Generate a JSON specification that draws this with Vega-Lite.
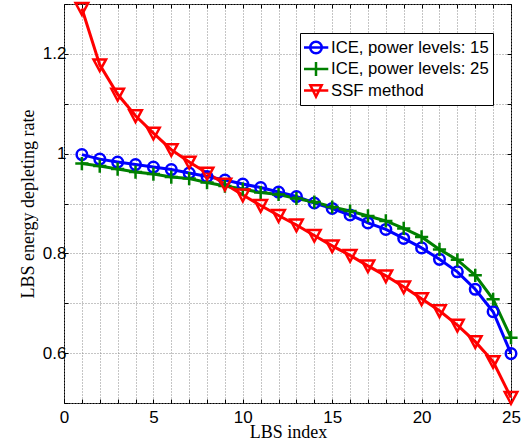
{
  "$schema": "https://vega.github.io/schema/vega-lite/v6.json",
  "width": 447,
  "height": 399,
  "autosize": "none",
  "padding": {"left": 64, "top": 4, "right": 20, "bottom": 42},
  "background": "white",
  "config": {
    "view": {"stroke": "black", "strokeWidth": 1},
    "axis": {
      "labelFont": "Liberation Sans",
      "labelFontSize": 17,
      "labelColor": "black",
      "titleFont": "Liberation Serif",
      "titleFontSize": 18,
      "titleFontWeight": "normal",
      "titleColor": "black",
      "domain": false,
      "tickColor": "black",
      "tickWidth": 1,
      "labelFlush": false,
      "labelOverlap": false
    }
  },
  "datasets": {
    "pts": [
      {"series": "ICE, power levels: 15", "lbs": 1, "rate": 0.998},
      {"series": "ICE, power levels: 15", "lbs": 2, "rate": 0.989},
      {"series": "ICE, power levels: 15", "lbs": 3, "rate": 0.983},
      {"series": "ICE, power levels: 15", "lbs": 4, "rate": 0.978},
      {"series": "ICE, power levels: 15", "lbs": 5, "rate": 0.973},
      {"series": "ICE, power levels: 15", "lbs": 6, "rate": 0.968},
      {"series": "ICE, power levels: 15", "lbs": 7, "rate": 0.961},
      {"series": "ICE, power levels: 15", "lbs": 8, "rate": 0.954},
      {"series": "ICE, power levels: 15", "lbs": 9, "rate": 0.947},
      {"series": "ICE, power levels: 15", "lbs": 10, "rate": 0.939},
      {"series": "ICE, power levels: 15", "lbs": 11, "rate": 0.932},
      {"series": "ICE, power levels: 15", "lbs": 12, "rate": 0.923},
      {"series": "ICE, power levels: 15", "lbs": 13, "rate": 0.914},
      {"series": "ICE, power levels: 15", "lbs": 14, "rate": 0.901},
      {"series": "ICE, power levels: 15", "lbs": 15, "rate": 0.89},
      {"series": "ICE, power levels: 15", "lbs": 16, "rate": 0.877},
      {"series": "ICE, power levels: 15", "lbs": 17, "rate": 0.861},
      {"series": "ICE, power levels: 15", "lbs": 18, "rate": 0.848},
      {"series": "ICE, power levels: 15", "lbs": 19, "rate": 0.83},
      {"series": "ICE, power levels: 15", "lbs": 20, "rate": 0.811},
      {"series": "ICE, power levels: 15", "lbs": 21, "rate": 0.788},
      {"series": "ICE, power levels: 15", "lbs": 22, "rate": 0.763},
      {"series": "ICE, power levels: 15", "lbs": 23, "rate": 0.728},
      {"series": "ICE, power levels: 15", "lbs": 24, "rate": 0.683},
      {"series": "ICE, power levels: 15", "lbs": 25, "rate": 0.599},
      {"series": "ICE, power levels: 25", "lbs": 1, "rate": 0.98},
      {"series": "ICE, power levels: 25", "lbs": 2, "rate": 0.975},
      {"series": "ICE, power levels: 25", "lbs": 3, "rate": 0.969},
      {"series": "ICE, power levels: 25", "lbs": 4, "rate": 0.963},
      {"series": "ICE, power levels: 25", "lbs": 5, "rate": 0.959},
      {"series": "ICE, power levels: 25", "lbs": 6, "rate": 0.953},
      {"series": "ICE, power levels: 25", "lbs": 7, "rate": 0.95},
      {"series": "ICE, power levels: 25", "lbs": 8, "rate": 0.942},
      {"series": "ICE, power levels: 25", "lbs": 9, "rate": 0.935},
      {"series": "ICE, power levels: 25", "lbs": 10, "rate": 0.929},
      {"series": "ICE, power levels: 25", "lbs": 11, "rate": 0.922},
      {"series": "ICE, power levels: 25", "lbs": 12, "rate": 0.918},
      {"series": "ICE, power levels: 25", "lbs": 13, "rate": 0.91},
      {"series": "ICE, power levels: 25", "lbs": 14, "rate": 0.903},
      {"series": "ICE, power levels: 25", "lbs": 15, "rate": 0.893},
      {"series": "ICE, power levels: 25", "lbs": 16, "rate": 0.885},
      {"series": "ICE, power levels: 25", "lbs": 17, "rate": 0.875},
      {"series": "ICE, power levels: 25", "lbs": 18, "rate": 0.865},
      {"series": "ICE, power levels: 25", "lbs": 19, "rate": 0.85},
      {"series": "ICE, power levels: 25", "lbs": 20, "rate": 0.833},
      {"series": "ICE, power levels: 25", "lbs": 21, "rate": 0.808},
      {"series": "ICE, power levels: 25", "lbs": 22, "rate": 0.787},
      {"series": "ICE, power levels: 25", "lbs": 23, "rate": 0.756},
      {"series": "ICE, power levels: 25", "lbs": 24, "rate": 0.708},
      {"series": "ICE, power levels: 25", "lbs": 25, "rate": 0.631},
      {"series": "SSF method", "lbs": 1, "rate": 1.291},
      {"series": "SSF method", "lbs": 2, "rate": 1.178},
      {"series": "SSF method", "lbs": 3, "rate": 1.119},
      {"series": "SSF method", "lbs": 4, "rate": 1.076},
      {"series": "SSF method", "lbs": 5, "rate": 1.041},
      {"series": "SSF method", "lbs": 6, "rate": 1.008},
      {"series": "SSF method", "lbs": 7, "rate": 0.983},
      {"series": "SSF method", "lbs": 8, "rate": 0.961},
      {"series": "SSF method", "lbs": 9, "rate": 0.939},
      {"series": "SSF method", "lbs": 10, "rate": 0.917},
      {"series": "SSF method", "lbs": 11, "rate": 0.896},
      {"series": "SSF method", "lbs": 12, "rate": 0.876},
      {"series": "SSF method", "lbs": 13, "rate": 0.857},
      {"series": "SSF method", "lbs": 14, "rate": 0.836},
      {"series": "SSF method", "lbs": 15, "rate": 0.815},
      {"series": "SSF method", "lbs": 16, "rate": 0.796},
      {"series": "SSF method", "lbs": 17, "rate": 0.775},
      {"series": "SSF method", "lbs": 18, "rate": 0.755},
      {"series": "SSF method", "lbs": 19, "rate": 0.733},
      {"series": "SSF method", "lbs": 20, "rate": 0.709},
      {"series": "SSF method", "lbs": 21, "rate": 0.685},
      {"series": "SSF method", "lbs": 22, "rate": 0.656},
      {"series": "SSF method", "lbs": 23, "rate": 0.623},
      {"series": "SSF method", "lbs": 24, "rate": 0.583},
      {"series": "SSF method", "lbs": 25, "rate": 0.511}
    ]
  },
  "data": {"name": "pts"},
  "resolve": {"axis": {"x": "independent", "y": "independent"}},
  "layer": [
    {
      "mark": {"type": "point", "filled": false, "opacity": 0, "strokeWidth": 2},
      "encoding": {
        "x": {
          "field": "lbs", "type": "quantitative",
          "scale": {"domain": [0, 25], "nice": false, "zero": false},
          "axis": {
            "orient": "bottom",
            "title": "LBS index",
            "values": [0,1,2,3,4,5,6,7,8,9,10,11,12,13,14,15,16,17,18,19,20,21,22,23,24,25],
            "format": "d",
            "labelExpr": "datum.value % 5 == 0 ? datum.label : ''",
            "tickSize": -4,
            "labelPadding": 10,
            "grid": true,
            "gridColor": "#8a8a8a",
            "gridDash": [1, 2],
            "gridWidth": 1,
            "titleX": 224,
            "titleY": 34,
            "titleBaseline": "alphabetic",
            "titleAlign": "center"
          }
        },
        "y": {
          "field": "rate", "type": "quantitative",
          "scale": {"domain": [0.5, 1.3], "nice": false, "zero": false},
          "axis": {
            "orient": "left",
            "title": "LBS energy depleting rate",
            "values": [0.5,0.6,0.7,0.8,0.9,1.0,1.1,1.2,1.3],
            "format": ".1~f",
            "labelExpr": "indexof(['0.6','0.8','1','1.2'], datum.label) >= 0 ? datum.label : ''",
            "tickSize": -4,
            "labelPadding": 2,
            "grid": true,
            "gridColor": "#8a8a8a",
            "gridDash": [1, 2],
            "gridWidth": 1,
            "titleX": -31,
            "titleY": 199.5,
            "titleAngle": 270,
            "titleBaseline": "alphabetic",
            "titleAlign": "center"
          }
        },
        "color": {
          "field": "series", "type": "nominal",
          "scale": {"domain": ["ICE, power levels: 15", "ICE, power levels: 25", "SSF method"], "range": ["#0000ff", "#008000", "#ff0000"]},
          "legend": {
            "title": null,
            "orient": "none",
            "legendX": 236,
            "legendY": 29,
            "fillColor": "white",
            "strokeColor": "black",
            "padding": 4,
            "labelFont": "Liberation Sans",
            "labelFontSize": 16.7,
            "labelColor": "black",
            "labelOffset": 3,
            "labelLimit": 300,
            "symbolSize": 441,
            "symbolStrokeWidth": 2.5,
            "symbolOpacity": 1,
            "clipHeight": 21,
            "rowPadding": 0.5
          }
        },
        "shape": {
          "field": "series", "type": "nominal",
          "scale": {
            "domain": ["ICE, power levels: 15", "ICE, power levels: 25", "SSF method"],
            "range": [
              "M-1.17,0H1.17M-0.55,0A0.55,0.55,0,1,1,0.55,0A0.55,0.55,0,1,1,-0.55,0Z",
              "M-1.17,0H1.17M0,-0.67V0.67",
              "M-1.17,0H1.17M-0.54,-0.5L0.54,-0.5L0,0.58Z"
            ]
          },
          "legend": {
            "title": null,
            "orient": "none",
            "legendX": 236,
            "legendY": 29,
            "fillColor": "white",
            "strokeColor": "black",
            "padding": 4,
            "labelFont": "Liberation Sans",
            "labelFontSize": 16.7,
            "labelColor": "black",
            "labelOffset": 3,
            "labelLimit": 300,
            "symbolSize": 441,
            "symbolStrokeWidth": 2.5,
            "symbolOpacity": 1,
            "clipHeight": 21,
            "rowPadding": 0.5
          }
        }
      }
    },
    {
      "mark": {"type": "line", "strokeWidth": 3},
      "encoding": {
        "x": {"field": "lbs", "type": "quantitative", "axis": null},
        "y": {"field": "rate", "type": "quantitative", "axis": null},
        "color": {"field": "series", "type": "nominal", "legend": null},
        "order": {"field": "lbs", "type": "quantitative"}
      }
    },
    {
      "transform": [{"filter": "datum.series == 'ICE, power levels: 15'"}],
      "mark": {"type": "point", "filled": false, "strokeWidth": 2.5, "size": 144, "opacity": 1, "shape": "M-0.88,0A0.88,0.88,0,1,1,0.88,0A0.88,0.88,0,1,1,-0.88,0Z"},
      "encoding": {
        "x": {"field": "lbs", "type": "quantitative", "axis": null},
        "y": {"field": "rate", "type": "quantitative", "axis": null},
        "color": {"field": "series", "type": "nominal", "legend": null}
      }
    },
    {
      "transform": [{"filter": "datum.series == 'ICE, power levels: 25'"}],
      "mark": {"type": "point", "filled": false, "strokeWidth": 2.5, "size": 144, "opacity": 1, "shape": "M-1.1,0H1.1M0,-1.1V1.1"},
      "encoding": {
        "x": {"field": "lbs", "type": "quantitative", "axis": null},
        "y": {"field": "rate", "type": "quantitative", "axis": null},
        "color": {"field": "series", "type": "nominal", "legend": null}
      }
    },
    {
      "transform": [{"filter": "datum.series == 'SSF method'"}],
      "mark": {"type": "point", "filled": false, "strokeWidth": 2.5, "size": 144, "opacity": 1, "shape": "M-1.05,-0.9L1.05,-0.9L0,1.05Z"},
      "encoding": {
        "x": {"field": "lbs", "type": "quantitative", "axis": null},
        "y": {"field": "rate", "type": "quantitative", "axis": null},
        "color": {"field": "series", "type": "nominal", "legend": null}
      }
    },
    {
      "mark": {"type": "point", "opacity": 0},
      "encoding": {
        "x": {
          "field": "lbs", "type": "quantitative",
          "axis": {"orient": "top", "title": null, "labels": false, "grid": false, "domain": false,
                   "values": [0,1,2,3,4,5,6,7,8,9,10,11,12,13,14,15,16,17,18,19,20,21,22,23,24,25],
                   "tickSize": -4}
        },
        "y": {
          "field": "rate", "type": "quantitative",
          "axis": {"orient": "right", "title": null, "labels": false, "grid": false, "domain": false,
                   "values": [0.5,0.6,0.7,0.8,0.9,1.0,1.1,1.2,1.3],
                   "tickSize": -4}
        }
      }
    }
  ]
}
